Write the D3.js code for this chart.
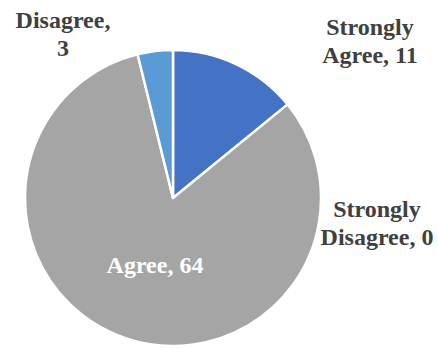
<!DOCTYPE html>
<html>
<head>
<meta charset="utf-8">
<script src="https://cdn.jsdelivr.net/npm/d3@7"></script>
<style>
  html, body { margin: 0; padding: 0; background: #fff; }
  svg { display: block; }
</style>
</head>
<body>
<svg id="chart" width="438" height="349"></svg>
<script>
// Survey responses
const categories = ["Strongly Agree", "Strongly Disagree", "Agree", "Disagree"];
const values = [11, 0, 64, 3];
const colors = ["#4472C4", "#ED7D31", "#A5A5A5", "#5B9BD5"];

// Label placement: lines of text, anchor point (centre x, first baseline), text colour
const labelLayout = {
  "Strongly Agree":    { x: 370, y: 35,  color: "#404040", lines: ["Strongly", "Agree, {v}"] },
  "Strongly Disagree": { x: 377, y: 217, color: "#404040", lines: ["Strongly", "Disagree, {v}"] },
  "Agree":             { x: 155, y: 273, color: "#ffffff", lines: ["Agree, {v}"] },
  "Disagree":          { x: 63,  y: 28,  color: "#404040", lines: ["Disagree,", "{v}"] }
};

const svg = d3.select("#chart");
const cx = 173, cy = 198, radius = 148;

const data = categories.map((c, i) => ({ category: c, value: values[i], color: colors[i] }));

const pie = d3.pie().sort(null).value(d => d.value);
const arc = d3.arc().innerRadius(0).outerRadius(radius);

const g = svg.append("g").attr("transform", `translate(${cx},${cy})`);

g.selectAll("path")
  .data(pie(data).filter(d => d.data.value > 0))
  .join("path")
  .attr("d", arc)
  .attr("fill", d => d.data.color)
  .attr("stroke", "#fff")
  .attr("stroke-width", 2.5)
  .attr("stroke-linejoin", "round");

const lineHeight = 28;
data.forEach(d => {
  const L = labelLayout[d.category];
  const t = svg.append("text")
    .attr("text-anchor", "middle")
    .attr("font-family", "'Liberation Serif'")
    .attr("font-weight", "bold")
    .attr("font-size", 24)
    .attr("fill", L.color);
  L.lines.forEach((ln, i) => {
    t.append("tspan")
      .attr("x", L.x)
      .attr("y", L.y + i * lineHeight)
      .text(ln.replace("{v}", d.value));
  });
});
</script>
</body>
</html>
